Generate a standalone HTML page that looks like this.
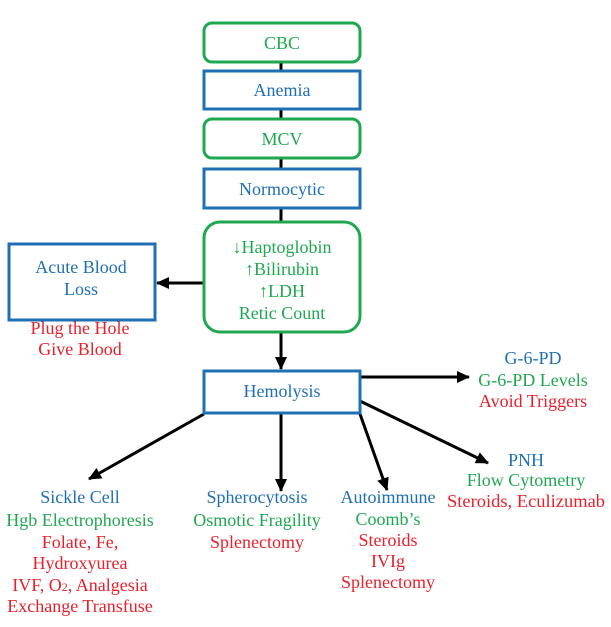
<!DOCTYPE html>
<html><head><style>html,body{margin:0;padding:0;background:#fff}</style></head>
<body>
<svg width="611" height="622" xmlns="http://www.w3.org/2000/svg" font-family="Liberation Serif, serif" font-size="18" text-anchor="middle">
<defs><marker id="a" markerWidth="14" markerHeight="14" refX="12" refY="6" orient="auto" markerUnits="userSpaceOnUse"><path d="M0,0 L13,6 L0,12 z" fill="#000"/></marker></defs>
<g stroke="#000" stroke-width="3" fill="none">
<line x1="281" y1="62" x2="281" y2="222"/>
<line x1="204" y1="283" x2="157" y2="283" marker-end="url(#a)"/>
<line x1="281" y1="332" x2="281" y2="369" marker-end="url(#a)"/>
<line x1="360" y1="377" x2="469" y2="377" marker-end="url(#a)"/>
<line x1="204" y1="414" x2="89" y2="479" marker-end="url(#a)"/>
<line x1="281" y1="414" x2="281" y2="491" marker-end="url(#a)"/>
<line x1="360" y1="414" x2="387" y2="490" marker-end="url(#a)"/>
<line x1="360" y1="401" x2="488" y2="463" marker-end="url(#a)"/>
</g>
<g stroke-width="3" fill="#fff">
<rect x="204" y="23" width="156" height="39" rx="8" stroke="#1fa84f"/>
<rect x="204" y="71" width="156" height="38" stroke="#1f6fb4"/>
<rect x="204" y="119" width="156" height="39" rx="8" stroke="#1fa84f"/>
<rect x="204" y="169" width="156" height="39" stroke="#1f6fb4"/>
<rect x="204" y="222" width="156" height="110" rx="16" stroke="#1fa84f"/>
<rect x="9" y="244" width="146" height="76" stroke="#1f6fb4"/>
<rect x="204" y="371" width="156" height="42" stroke="#1f6fb4"/>
</g>
<g fill="#1fa84f">
<text x="282" y="49">CBC</text>
<text x="282" y="145">MCV</text>
<text x="282" y="253">↓Haptoglobin</text>
<text x="282" y="275">↑Bilirubin</text>
<text x="282" y="297">↑LDH</text>
<text x="282" y="319">Retic Count</text>
<text x="533" y="386">G-6-PD Levels</text>
<text x="526" y="486">Flow Cytometry</text>
<text x="80" y="526">Hgb Electrophoresis</text>
<text x="257" y="526">Osmotic Fragility</text>
<text x="388" y="525">Coomb’s</text>
</g>
<g fill="#1f6fb4">
<text x="282" y="96">Anemia</text>
<text x="282" y="195">Normocytic</text>
<text x="81" y="273">Acute Blood</text>
<text x="81" y="295">Loss</text>
<text x="282" y="397">Hemolysis</text>
<text x="533" y="364">G-6-PD</text>
<text x="526" y="466">PNH</text>
<text x="80" y="503">Sickle Cell</text>
<text x="257" y="503">Spherocytosis</text>
<text x="388" y="503">Autoimmune</text>
</g>
<g fill="#e8202a">
<text x="80" y="334">Plug the Hole</text>
<text x="80" y="355">Give Blood</text>
<text x="533" y="407">Avoid Triggers</text>
<text x="526" y="507" textLength="158" lengthAdjust="spacingAndGlyphs">Steroids, Eculizumab</text>
<text x="80" y="548">Folate, Fe,</text>
<text x="80" y="569">Hydroxyurea</text>
<text x="80" y="591">IVF, O<tspan font-size="12">2</tspan>, Analgesia</text>
<text x="80" y="612">Exchange Transfuse</text>
<text x="257" y="548">Splenectomy</text>
<text x="388" y="546">Steroids</text>
<text x="388" y="567">IVIg</text>
<text x="388" y="588">Splenectomy</text>
</g>
</svg>
</body></html>
